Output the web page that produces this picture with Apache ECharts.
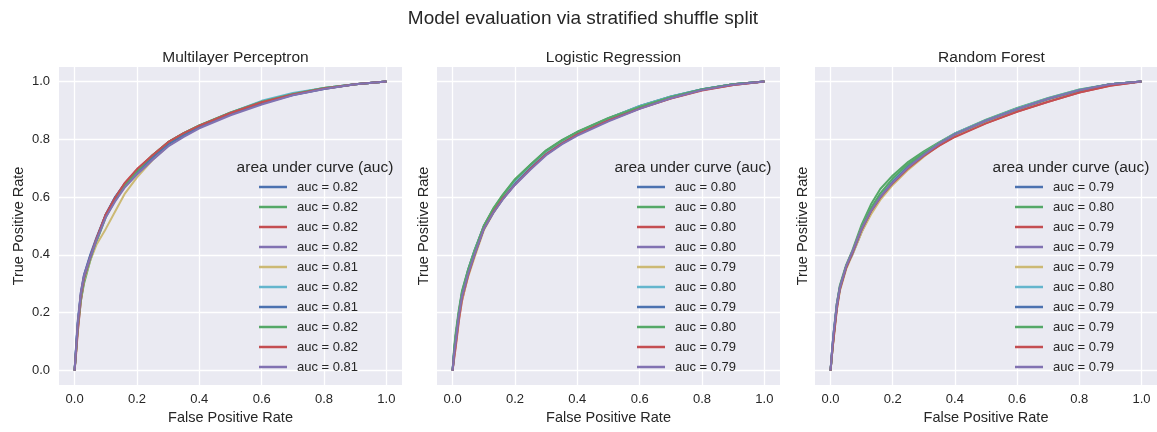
<!DOCTYPE html>
<html>
<head>
<meta charset="utf-8">
<script src="https://cdn.jsdelivr.net/npm/echarts@6/dist/echarts.min.js"></script>
<style>html,body{margin:0;padding:0;background:#fff;}#chart{width:1157px;height:432px;}</style>
</head>
<body>
<div id="chart"></div>
<script>
// ---- data ----
const mainTitle = 'Model evaluation via stratified shuffle split';
const panelTitles = ['Multilayer Perceptron', 'Logistic Regression', 'Random Forest'];
const legendTitle = 'area under curve (auc)';
const tickValues = [0, 0.2, 0.4, 0.6, 0.8, 1.0];
const fprGrid = [0, 0.005, 0.01, 0.02, 0.03, 0.05, 0.07, 0.1, 0.13, 0.16, 0.2, 0.25, 0.3, 0.35, 0.4, 0.5, 0.6, 0.7, 0.8, 0.9, 1.0];

const mlpAuc = [0.82, 0.82, 0.82, 0.82, 0.81, 0.82, 0.81, 0.82, 0.82, 0.81];
const mlpTpr = [
  [0,0.09,0.17,0.27,0.33,0.40,0.46,0.54,0.60,0.645,0.69,0.74,0.785,0.818,0.845,0.89,0.928,0.955,0.976,0.99,1],
  [0,0.07,0.14,0.24,0.30,0.38,0.445,0.53,0.59,0.64,0.69,0.745,0.79,0.821,0.848,0.893,0.93,0.957,0.977,0.99,1],
  [0,0.06,0.13,0.24,0.31,0.39,0.455,0.54,0.595,0.645,0.695,0.745,0.79,0.82,0.846,0.89,0.926,0.954,0.975,0.99,1],
  [0,0.08,0.16,0.27,0.33,0.395,0.455,0.535,0.59,0.638,0.683,0.735,0.78,0.813,0.842,0.887,0.925,0.955,0.976,0.99,1],
  [0,0.07,0.15,0.25,0.31,0.38,0.435,0.49,0.55,0.61,0.668,0.728,0.777,0.813,0.843,0.888,0.926,0.954,0.975,0.99,1],
  [0,0.08,0.16,0.26,0.32,0.39,0.45,0.535,0.595,0.642,0.688,0.74,0.786,0.819,0.846,0.892,0.933,0.96,0.977,0.99,1],
  [0,0.08,0.16,0.26,0.325,0.395,0.455,0.54,0.60,0.645,0.688,0.738,0.782,0.814,0.842,0.886,0.924,0.953,0.974,0.99,1],
  [0,0.07,0.15,0.25,0.315,0.385,0.45,0.535,0.59,0.64,0.69,0.745,0.79,0.821,0.848,0.892,0.93,0.957,0.977,0.99,1],
  [0,0.07,0.15,0.26,0.32,0.39,0.455,0.54,0.598,0.648,0.697,0.745,0.79,0.821,0.847,0.891,0.928,0.955,0.976,0.99,1],
  [0,0.08,0.16,0.265,0.325,0.39,0.45,0.53,0.585,0.632,0.678,0.728,0.775,0.808,0.838,0.883,0.92,0.952,0.974,0.99,1]
];

const lrAuc = [0.80, 0.80, 0.80, 0.80, 0.79, 0.80, 0.79, 0.80, 0.79, 0.79];
const lrTpr = [
  [0,0.07,0.12,0.20,0.27,0.35,0.415,0.50,0.555,0.60,0.655,0.71,0.76,0.795,0.825,0.872,0.915,0.948,0.973,0.99,1],
  [0,0.08,0.13,0.21,0.275,0.35,0.415,0.50,0.56,0.607,0.662,0.713,0.762,0.797,0.826,0.874,0.914,0.947,0.973,0.99,1],
  [0,0.04,0.08,0.17,0.24,0.33,0.40,0.49,0.548,0.595,0.645,0.70,0.75,0.787,0.818,0.867,0.907,0.942,0.97,0.988,1],
  [0,0.06,0.10,0.19,0.26,0.34,0.405,0.495,0.55,0.597,0.65,0.703,0.752,0.788,0.82,0.868,0.91,0.945,0.972,0.99,1],
  [0,0.05,0.09,0.18,0.245,0.325,0.39,0.485,0.543,0.592,0.645,0.70,0.75,0.786,0.817,0.866,0.908,0.943,0.971,0.99,1],
  [0,0.06,0.11,0.19,0.26,0.34,0.41,0.497,0.553,0.60,0.653,0.707,0.757,0.792,0.823,0.872,0.915,0.948,0.973,0.99,1],
  [0,0.06,0.10,0.19,0.255,0.335,0.40,0.49,0.545,0.592,0.645,0.70,0.748,0.785,0.816,0.865,0.908,0.945,0.972,0.99,1],
  [0,0.07,0.12,0.20,0.265,0.345,0.41,0.50,0.558,0.605,0.66,0.712,0.76,0.795,0.825,0.873,0.913,0.946,0.972,0.99,1],
  [0,0.05,0.09,0.18,0.25,0.33,0.398,0.49,0.547,0.594,0.643,0.698,0.748,0.785,0.817,0.865,0.906,0.941,0.969,0.988,1],
  [0,0.06,0.10,0.19,0.255,0.335,0.40,0.49,0.545,0.59,0.642,0.695,0.745,0.782,0.813,0.862,0.905,0.942,0.97,0.989,1]
];

const rfAuc = [0.79, 0.80, 0.79, 0.79, 0.79, 0.80, 0.79, 0.79, 0.79, 0.79];
const rfTpr = [
  [0,0.06,0.12,0.23,0.29,0.36,0.40,0.48,0.55,0.60,0.652,0.705,0.745,0.783,0.816,0.863,0.904,0.94,0.97,0.99,1],
  [0,0.07,0.13,0.23,0.295,0.365,0.415,0.505,0.575,0.628,0.675,0.722,0.758,0.79,0.82,0.868,0.908,0.943,0.972,0.99,1],
  [0,0.06,0.12,0.22,0.285,0.36,0.41,0.495,0.558,0.608,0.655,0.706,0.745,0.78,0.81,0.856,0.896,0.93,0.962,0.985,1],
  [0,0.07,0.13,0.23,0.29,0.36,0.41,0.49,0.553,0.60,0.65,0.705,0.748,0.788,0.82,0.865,0.905,0.94,0.97,0.99,1],
  [0,0.06,0.11,0.21,0.275,0.35,0.40,0.478,0.54,0.59,0.642,0.695,0.74,0.78,0.812,0.86,0.902,0.938,0.968,0.99,1],
  [0,0.07,0.13,0.22,0.285,0.36,0.41,0.495,0.56,0.61,0.662,0.712,0.752,0.788,0.82,0.866,0.907,0.942,0.971,0.99,1],
  [0,0.07,0.12,0.22,0.285,0.355,0.405,0.488,0.552,0.60,0.652,0.706,0.747,0.785,0.817,0.864,0.904,0.939,0.969,0.99,1],
  [0,0.06,0.12,0.22,0.285,0.36,0.41,0.495,0.562,0.613,0.665,0.715,0.752,0.787,0.818,0.864,0.904,0.94,0.97,0.99,1],
  [0,0.06,0.11,0.21,0.28,0.355,0.405,0.488,0.55,0.598,0.648,0.70,0.742,0.778,0.808,0.855,0.895,0.93,0.962,0.986,1],
  [0,0.07,0.13,0.22,0.285,0.36,0.41,0.49,0.552,0.60,0.65,0.703,0.746,0.785,0.817,0.864,0.904,0.94,0.97,0.99,1]
];

const palette = ['#4C72B0', '#55A868', '#C44E52', '#8172B2', '#CCB974', '#64B5CD'];

// ---- layout ----
const FONT = '"Liberation Sans", Arial, sans-serif';
const TXT = '#262626';
const gridLefts = [59, 437, 815];
const gridW = 343, gridTop = 67, gridH = 318;
const legendLeft = [259, 637, 1015];
const legendTitleX = [310, 688, 1066];
const yNameGap = [33, 6, 5];

const panels = [
  { tpr: mlpTpr, auc: mlpAuc },
  { tpr: lrTpr, auc: lrAuc },
  { tpr: rfTpr, auc: rfAuc }
];

const labelMap = {};
const grids = [], xAxes = [], yAxes = [], series = [], legends = [];
const titles = [{
  text: mainTitle, left: 578, top: 4, textAlign: 'center',
  textStyle: { fontFamily: FONT, fontSize: 19, fontWeight: 'normal', color: TXT }
}];

panels.forEach((p, pi) => {
  grids.push({
    left: gridLefts[pi], top: gridTop, width: gridW, height: gridH,
    show: true, backgroundColor: '#EAEAF2', borderWidth: 0, containLabel: false
  });
  xAxes.push({
    type: 'value', gridIndex: pi, min: -0.05, max: 1.05,
    name: 'False Positive Rate', nameLocation: 'middle', nameGap: 25,
    nameTextStyle: { fontFamily: FONT, fontSize: 14.5, color: TXT },
    axisLine: { show: false },
    axisTick: { show: false, customValues: tickValues },
    axisLabel: { customValues: tickValues, fontFamily: FONT, fontSize: 13, color: TXT, margin: 8,
      formatter: v => v.toFixed(1) },
    splitLine: { show: true, lineStyle: { color: '#ffffff', width: 1.3 } }
  });
  yAxes.push({
    type: 'value', gridIndex: pi, min: -0.05, max: 1.05,
    name: 'True Positive Rate', nameLocation: 'middle', nameGap: yNameGap[pi],
    nameTextStyle: { fontFamily: FONT, fontSize: 14.5, color: TXT },
    axisLine: { show: false },
    axisTick: { show: false, customValues: tickValues },
    axisLabel: { show: pi === 0, customValues: tickValues, fontFamily: FONT, fontSize: 13, color: TXT, margin: 9,
      formatter: v => v.toFixed(1) },
    splitLine: { show: true, lineStyle: { color: '#ffffff', width: 1.3 } }
  });
  titles.push({
    text: panelTitles[pi], left: gridLefts[pi] + gridW / 2, top: 45, textAlign: 'center',
    textStyle: { fontFamily: FONT, fontSize: 15.5, fontWeight: 'normal', color: TXT }
  });
  titles.push({
    text: legendTitle, left: legendTitleX[pi], top: 155, textAlign: 'center',
    textStyle: { fontFamily: FONT, fontSize: 15.5, fontWeight: 'normal', color: TXT }
  });
  const names = [];
  p.tpr.forEach((curve, k) => {
    const nm = 'p' + pi + '_c' + k;
    labelMap[nm] = 'auc = ' + p.auc[k].toFixed(2);
    names.push(nm);
    const color = palette[k % palette.length];
    series.push({
      type: 'line', name: nm, xAxisIndex: pi, yAxisIndex: pi,
      data: fprGrid.map((x, i) => [x, curve[i]]),
      showSymbol: false, symbol: 'none', smooth: false,
      lineStyle: { color: color, width: 2 }, itemStyle: { color: color },
      emphasis: { disabled: true }, animation: false, z: 2 + k
    });
  });
  legends.push({
    data: names, orient: 'vertical', left: legendLeft[pi], top: 180, padding: 0,
    icon: 'rect', itemWidth: 28, itemHeight: 2.5, itemGap: 6,
    selectedMode: false,
    formatter: n => labelMap[n],
    textStyle: { fontFamily: FONT, fontSize: 13, color: TXT, lineHeight: 14, padding: [0, 0, 0, 5] }
  });
});

const chart = echarts.init(document.getElementById('chart'), null, { renderer: 'canvas' });
chart.setOption({
  backgroundColor: '#ffffff',
  animation: false,
  title: titles,
  grid: grids,
  xAxis: xAxes,
  yAxis: yAxes,
  legend: legends,
  series: series
});
</script>
</body>
</html>
